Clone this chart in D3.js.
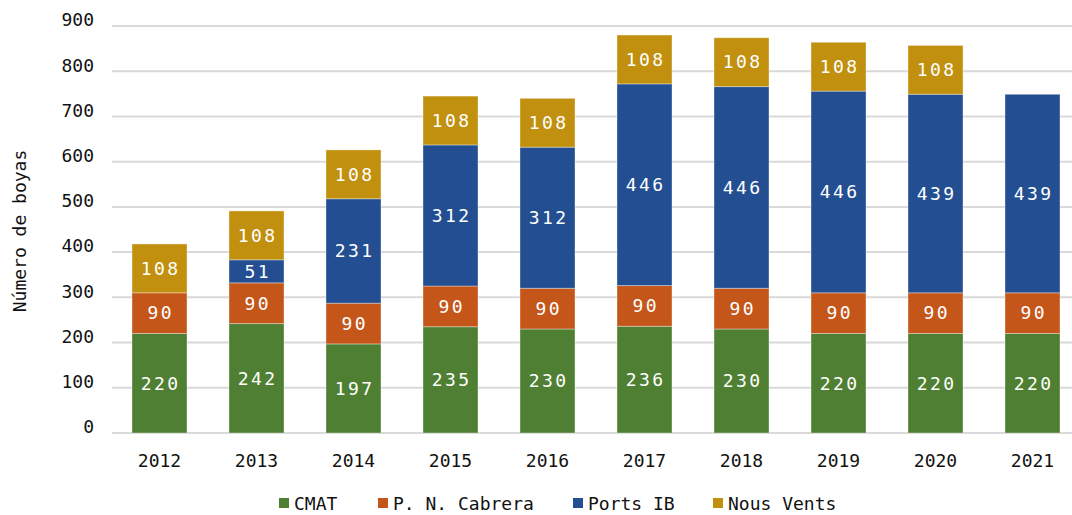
<!DOCTYPE html>
<html><head><meta charset="utf-8">
<script src="https://cdn.jsdelivr.net/npm/d3@7"></script>
<style>
body{margin:0;background:#fff;}
text{font-family:"DejaVu Sans Mono",monospace;}
</style></head>
<body><svg id="c" width="1072" height="515"></svg>
<script>
const years = ["2012","2013","2014","2015","2016","2017","2018","2019","2020","2021"];
const seriesNames = ["CMAT","P. N. Cabrera","Ports IB","Nous Vents"];
const cmat = [220,242,197,235,230,236,230,220,220,220];
const cabrera = [90,90,90,90,90,90,90,90,90,90];
const portsIB = [0,51,231,312,312,446,446,446,439,439];
const nousVents = [108,108,108,108,108,108,108,108,108,0];
const yTicks = [0,100,200,300,400,500,600,700,800,900];
const colors = ["#4f7f32","#c5561a","#234f92","#c1900f"];

const svg = d3.select("#c");
const x = d3.scaleBand().domain(years).range([111,1081]).paddingInner(0.433).paddingOuter(0.2165);
const y = d3.scaleLinear().domain([0,900]).range([433,26]);

// grid
svg.append("g").selectAll("line").data(yTicks).join("line")
  .attr("x1",112).attr("x2",1072).attr("y1",d=>y(d)).attr("y2",d=>y(d))
  .attr("stroke","#d9d9d9").attr("stroke-width",2);
svg.append("g").selectAll("text").data(yTicks).join("text")
  .attr("x",94).attr("y",d=>y(d)-6).attr("dy","0.35em").attr("text-anchor","end")
  .attr("font-size",18).attr("fill","#111").text(d=>d);

const data = years.map((yr,i)=>({year:yr,"CMAT":cmat[i],"P. N. Cabrera":cabrera[i],"Ports IB":portsIB[i],"Nous Vents":nousVents[i]}));
const stack = d3.stack().keys(seriesNames)(data);

const g = svg.append("g");
stack.forEach((s,si)=>{
  const gg = g.append("g");
  gg.selectAll("rect").data(s.filter(d=>d[1]-d[0]>0)).join("rect")
    .attr("x",d=>x(d.data.year)).attr("width",x.bandwidth())
    .attr("y",d=>y(d[1])).attr("height",d=>y(d[0])-y(d[1]))
    .attr("fill",colors[si]).attr("stroke","rgba(255,255,255,0.35)").attr("stroke-width",1);
  gg.selectAll("text").data(s.filter(d=>d[1]-d[0]>0)).join("text")
    .attr("x",d=>x(d.data.year)+x.bandwidth()/2+1.2).attr("y",d=>(y(d[0])+y(d[1]))/2)
    .attr("dy","0.35em").attr("text-anchor","middle").attr("fill","#fff")
    .attr("font-size",18).attr("letter-spacing",2.4)
    .text(d=>d[1]-d[0]);
});

// x labels
svg.append("g").selectAll("text").data(years).join("text")
  .attr("x",d=>x(d)+x.bandwidth()/2).attr("y",461).attr("dy","0.35em")
  .attr("text-anchor","middle").attr("font-size",18).attr("fill","#111").text(d=>d);

// y title
svg.append("text").attr("transform","translate(20,231) rotate(-90)")
  .attr("text-anchor","middle").attr("dy","0.35em").attr("font-size",18).attr("fill","#111")
  .text("Número de boyas");

// legend
const legX = [279,378,573,713];
const lg = svg.append("g");
seriesNames.forEach((n,i)=>{
  lg.append("rect").attr("x",legX[i]).attr("y",498).attr("width",10).attr("height",10).attr("fill",colors[i]);
  lg.append("text").attr("x",legX[i]+15).attr("y",504).attr("dy","0.35em").attr("font-size",18).attr("fill","#111").text(n);
});
</script></body></html>
